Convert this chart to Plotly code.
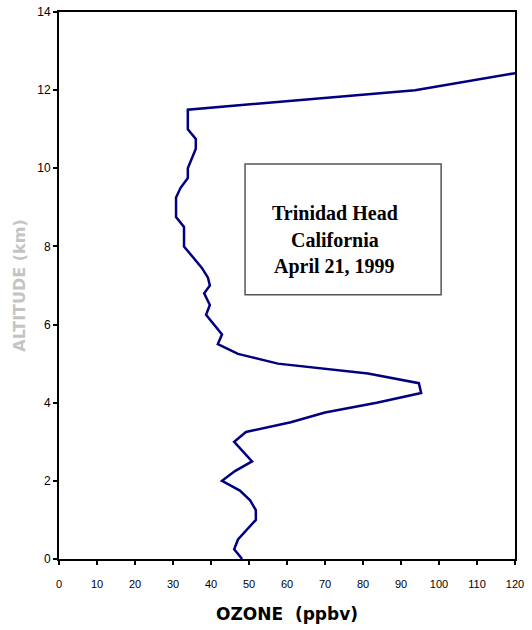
import plotly.graph_objects as go

# Ozone profile, Trinidad Head, April 21, 1999
altitude_km = [0.0, 0.25, 0.5, 0.75, 1.0, 1.25, 1.5, 1.75, 2.0, 2.25, 2.5, 3.0, 3.25,
               3.5, 3.75, 4.0, 4.25, 4.5, 4.75, 5.0, 5.25, 5.5, 5.75, 6.25, 6.5, 6.8,
               7.0, 7.2, 7.45, 8.0, 8.5, 8.75, 9.25, 9.5, 9.75, 10.0, 10.5, 10.75,
               11.0, 11.5, 12.0, 12.45]
ozone_ppbv = [48.2, 46.1, 47.1, 49.5, 51.8, 51.8, 50.3, 47.6, 42.9, 46.3, 50.8, 46.1, 49.2,
              61.0, 70.0, 83.6, 95.3, 94.7, 81.3, 57.6, 47.1, 41.8, 42.9, 38.7, 39.7, 38.2,
              39.7, 39.2, 37.6, 32.9, 32.9, 30.8, 30.8, 32.0, 33.9, 33.9, 36.0, 36.0,
              33.9, 33.9, 93.7, 121.0]

x_ticks = list(range(0, 121, 10))
x_tick_labels = ["0", "10", "20", "30", "40", "50", "60", "70", "80", "90", "100", "110", "120"]
y_ticks = list(range(0, 15, 2))

title_lines = ["Trinidad Head", "California", "April 21, 1999"]

fig = go.Figure()
fig.add_trace(go.Scatter(
    x=ozone_ppbv, y=altitude_km, mode="lines",
    line=dict(color="#000080", width=2.5),
    showlegend=False, hoverinfo="skip",
))

fig.update_layout(
    width=532, height=630,
    margin=dict(l=59, r=17, t=12, b=71),
    paper_bgcolor="white", plot_bgcolor="white",
    font=dict(family="Liberation Sans, Arial, sans-serif", color="black"),
    xaxis=dict(
        range=[0, 120], tickvals=x_ticks, ticktext=x_tick_labels,
        ticks="outside", ticklen=4, tickwidth=2, tickcolor="black",
        showline=True, linecolor="black", linewidth=2, mirror=True,
        showgrid=False, zeroline=False, automargin=False,
        tickfont=dict(size=11, family="Liberation Sans, Arial, sans-serif"),
        ticklabelstandoff=10,
        title=dict(text="<b>OZONE  (ppbv)</b>", standoff=19,
                   font=dict(size=17, family="DejaVu Sans, sans-serif")),
    ),
    yaxis=dict(
        range=[0, 14], tickvals=y_ticks,
        ticks="outside", ticklen=4, tickwidth=2, tickcolor="black",
        showline=True, linecolor="black", linewidth=2, mirror=True,
        showgrid=False, zeroline=False, automargin=False,
        tickfont=dict(size=12, family="Liberation Sans, Arial, sans-serif"),
        title=dict(text="<b>ALTITUDE (km)</b>", standoff=8,
                   font=dict(size=16, color="#c4c4c4", family="DejaVu Sans, sans-serif")),
    ),
    shapes=[dict(type="rect", xref="paper", yref="paper",
                 x0=0.408, x1=0.838, y0=0.483, y1=0.722,
                 line=dict(color="#555555", width=1.5), fillcolor="rgba(0,0,0,0)")],
)

for txt, yp in zip(title_lines, [0.633, 0.583, 0.534]):
    fig.add_annotation(
        text="<b>" + txt + "</b>", xref="paper", yref="paper",
        x=0.605, y=yp, showarrow=False, xanchor="center", yanchor="middle",
        font=dict(size=20, family="Liberation Serif, Times New Roman, serif", color="black"),
    )

fig.write_html("out.html")
